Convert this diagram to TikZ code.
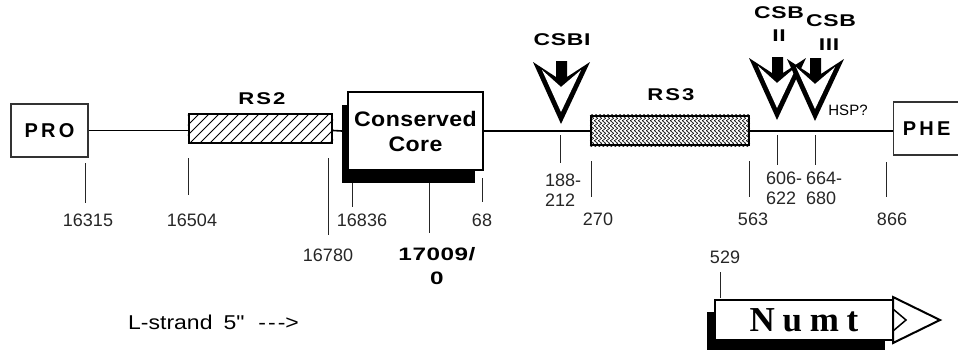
\documentclass[tikz,border=0pt]{standalone}
\usepackage{fontspec}
\setmainfont{Liberation Sans}
\newfontfamily\plainsans[FakeStretch=1.15]{Liberation Sans}
\newfontfamily\coresans[FakeStretch=1.1, LetterSpace=2]{Liberation Sans}
\newfontfamily\endsans[LetterSpace=16]{Liberation Sans}
\newfontfamily\widesans[FakeStretch=1.35, LetterSpace=4]{Liberation Sans}
\newfontfamily\rssans[FakeStretch=1.3, LetterSpace=12]{Liberation Sans}
\newfontfamily\numsans[FakeStretch=1.35, LetterSpace=3]{Liberation Sans}
\newfontfamily\numtfont[LetterSpace=22]{Liberation Serif}
\usetikzlibrary{decorations.pathmorphing}
\tikzset{
  mainline/.style={line width=1.6},
  tickline/.style={line width=0.9, black!85},
  ticklabel/.style={font=\fontsize{18}{20}\selectfont, inner sep=0, text=black!85},
  twoline/.style={font=\fontsize{18}{20}\selectfont, inner sep=0, align=left, anchor=west, text=black!85},
  endbox/.style={draw, line width=1.3, black!80, text=black, font=\endsans\bfseries\fontsize{20}{22}\selectfont},
  rsbox/.style={draw, line width=2.2, inner sep=0},
  rslabel/.style={font=\rssans\bfseries\fontsize{17}{21}\selectfont, inner sep=0},
  csblabel/.style={font=\widesans\bfseries\fontsize{17}{20}\selectfont, inner sep=0},
  csbarrow/.pic={
    \fill[black] (-28,-61) -- (-5,-46) -- (-5,-62) -- (6,-62) -- (6,-46) -- (29,-61) -- (0,1) -- cycle;
    \fill[white] (-19,-53) -- (0,-36) -- (20,-53) -- (0,-11) -- cycle;
  }
}
\begin{document}
\begin{tikzpicture}[x=1pt,y=-1pt]
\useasboundingbox (0,0) rectangle (958,360);

% end boxes
\node[endbox, minimum width=77, minimum height=53] (pro) at (49.5,130.5) {PRO};
\node[endbox, minimum width=66, minimum height=53, anchor=west] (phe) at (893,128.5) {PHE};

% RS2
\node[rsbox, minimum width=143, minimum height=29] (rs2) at (260.5,128.5) {};
\begin{scope}
  \clip (rs2.south west) rectangle (rs2.north east);
  \foreach \i in {160,170,...,340} \draw[line width=0.8] (\i,143) -- (\i+29,114);
\end{scope}
\node[rsbox, minimum width=143, minimum height=29] at (rs2) {};
\node[rslabel] (rs2lab) at (262,99) {RS2};

% RS3
\node[rsbox, minimum width=158, minimum height=29] (rs3) at (670,130.5) {};
\begin{scope}
  \clip (rs3.south west) rectangle (rs3.north east);
  \foreach \x in {592,596,...,750}
    \draw[line width=0.6, decorate, decoration={zigzag, segment length=5, amplitude=1.7}] (\x,112) -- (\x,150);
\end{scope}
\node[rsbox, minimum width=158, minimum height=29] at (rs3) {};
\node[rslabel] (rs3lab) at (671,95) {RS3};

% Conserved core with shadow
\fill[black] (342,105) rectangle (475,183);
\node[draw, fill=white, line width=2.2, minimum width=135, minimum height=78, align=center,
      font=\coresans\bfseries\fontsize{21}{25}\selectfont] (core) at (415.5,131) {Conserved\\Core};

% main line segments
\draw[mainline] (pro.east) -- (rs2.west |- pro.east);
\draw[mainline] (rs2.east |- pro.east) -- (342,131);
\draw[mainline] (core.east) -- (rs3.west |- core.east);
\draw[mainline] (rs3.east |- core.east) -- (phe.west |- core.east);

% CSB arrows
\pic at (561,123) {csbarrow};
\pic at (777,119) {csbarrow};
\pic at (815,120) {csbarrow};
\node[csblabel] (csbi) at (562,40) {CSBI};
\node[csblabel] (csbii) at (779,13) {CSB};
\node[csblabel] (csbiib) at (779,36) {II};
\node[csblabel] (csbiii) at (831,21) {CSB};
\node[csblabel] (csbiiib) at (829,45) {III};
\node[font=\fontsize{15}{17}\selectfont, inner sep=0] (hsp) at (848,110) {HSP?};

% ticks and labels
\draw[tickline] (85,163) -- (85,203);   \node[ticklabel] (l16315) at (88,220) {16315};
\draw[tickline] (188,158) -- (188,195); \node[ticklabel] (l16504) at (192,220) {16504};
\draw[tickline] (328,158) -- (328,235); \node[ticklabel] (l16780) at (328,255) {16780};
\draw[tickline] (352,183) -- (352,207); \node[ticklabel] (l16836) at (362,220) {16836};
\draw[tickline] (429,183) -- (429,233);
\node[font=\numsans\bfseries\fontsize{18}{24}\selectfont, inner sep=0, align=center] (l17009) at (437,266) {17009/\\0};
\draw[tickline] (482,178) -- (482,202); \node[ticklabel] (l68) at (482,220) {68};
\draw[tickline] (560,135) -- (560,163); \node[twoline] (l188) at (545,190) {188-\\212};
\draw[tickline] (591,161) -- (591,197); \node[ticklabel] (l270) at (598,219) {270};
\draw[tickline] (749,161) -- (749,197); \node[ticklabel] (l563) at (753,219) {563};
\draw[tickline] (777,135) -- (777,165); \node[twoline] (l606) at (766,188) {606-\\622};
\draw[tickline] (815,135) -- (815,165); \node[twoline] (l664) at (806,188) {664-\\680};
\draw[tickline] (886,162) -- (886,197); \node[ticklabel] (l866) at (892,219) {866};
\node[ticklabel] (l529) at (725,257) {529};
\draw[tickline] (720,272) -- (720,298);

% L-strand
\node[font=\plainsans\fontsize{20}{22}\selectfont, inner sep=0, anchor=west] (lstrand) at (128,322) {L-strand\hspace{11pt}5"\hspace{14pt}-\kern2pt-\kern2pt->};

% Numt arrow
\fill[black] (707,312) rectangle (885,350);
\draw[fill=white, line width=2] (893,297) -- (940,320) -- (893,343) -- cycle;
\draw[line width=1.5] (893,309) -- (906,320) -- (893,331);
\node[draw, fill=white, line width=2.5, minimum width=178, minimum height=40, inner sep=0,
      font=\numtfont\bfseries\fontsize{35}{36}\selectfont] (numt) at (804,320) {Numt};
\end{tikzpicture}
\end{document}
